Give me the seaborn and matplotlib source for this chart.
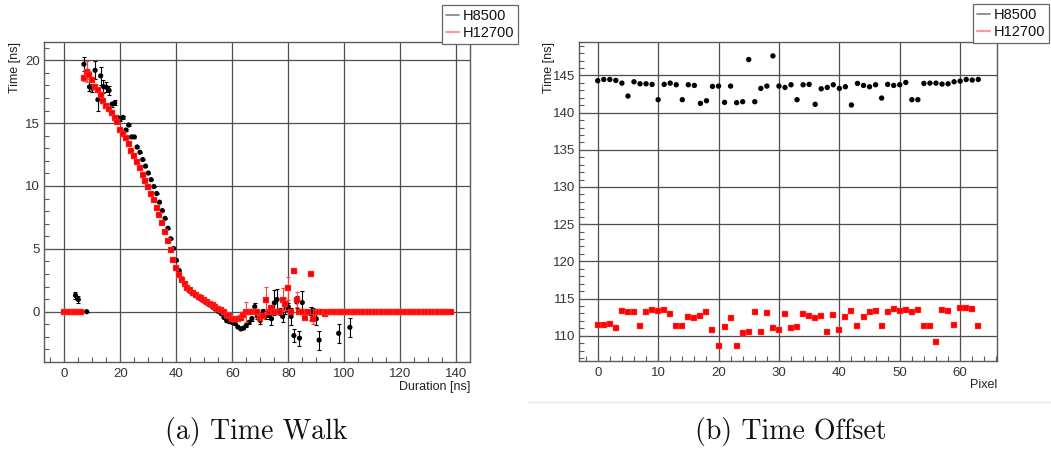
import numpy as np
import pandas as pd
import matplotlib
matplotlib.use("Agg")
import matplotlib.pyplot as plt
from matplotlib.ticker import MultipleLocator
from matplotlib.lines import Line2D
import seaborn as sns

# ---------------- data: (a) Time Walk ----------------
walk_black_x = [4, 5, 7, 8, 9, 10, 11, 12, 13, 14, 15, 16, 17, 18, 19, 20, 21, 22, 23, 24,
                25, 26, 27, 28, 29, 30, 31, 32, 33, 34, 35, 36, 37, 38, 39, 40, 41, 42, 43, 44,
                45, 46, 47, 48, 49, 50, 51, 52, 53, 54, 55, 56, 57, 58, 59, 60, 61, 62, 63, 64,
                65, 66, 67, 68, 69, 70, 71, 72, 73, 74, 75, 76, 77, 78, 79, 80, 81, 82, 83, 84,
                85, 88, 89, 90, 91, 98, 102]
walk_black_y = [1.3, 0.97, 19.68, 0.0, 17.88, 17.77, 19.2, 16.87, 18.76, 17.9, 17.85, 17.6, 16.5, 16.6, 15.45, 15.35, 15.45, 14.45, 14.85, 13.9,
                13.9, 13.1, 12.68, 12.1, 11.58, 11.03, 10.5, 9.95, 9.4, 8.71, 8.04, 7.42, 6.64, 5.8, 5.03, 4.09, 3.28, 2.63, 2.2, 1.8,
                1.6, 1.45, 1.28, 1.12, 0.97, 0.82, 0.67, 0.52, 0.36, 0.2, 0.03, -0.15, -0.45, -0.72, -0.8, -0.85, -0.95, -1.22, -1.37, -1.3,
                -1.1, -0.85, -0.55, 0.4, -0.35, -0.7, 0.0, -0.25, -0.3, -0.56, 0.7, 0.97, 0.0, -0.38, 0.18, 0.38, -0.38, -1.9, 0.78, -2.1,
                0.73, -0.16, 0.0, -0.56, -2.26, -1.72, -1.24]
walk_black_err = [0.3, 0.3, 0.55, 0.0, 0.35, 0.3, 0.7, 0.9, 0.7, 0.5, 0.4, 0.35, 0.2, 0.2, 0.15, 0.15, 0.15, 0.1, 0.1, 0.08,
                  0.08, 0.06, 0.06, 0.05, 0.05, 0.05, 0.05, 0.05, 0.05, 0.05, 0.05, 0.05, 0.05, 0.05, 0.05, 0.05, 0.05, 0.05, 0.05, 0.05,
                  0.05, 0.05, 0.05, 0.05, 0.05, 0.05, 0.05, 0.05, 0.05, 0.05, 0.05, 0.05, 0.05, 0.05, 0.05, 0.05, 0.05, 0.06, 0.08, 0.08,
                  0.1, 0.12, 0.15, 0.3, 0.25, 0.3, 0.2, 0.3, 0.3, 0.5, 1.0, 0.8, 0.3, 0.4, 0.4, 0.3, 0.7, 0.5, 0.5, 0.6,
                  0.9, 0.5, 0.3, 0.5, 0.75, 0.75, 0.75]

walk_red_x = list(range(0, 139))
walk_red_y = ([0.0] * 7 +
              [18.57, 19.1, 18.83, 18.46, 17.9, 17.64, 17.25, 16.77, 16.37, 16.1, 15.84, 15.44, 15.08,
               14.47, 14.13, 13.78, 13.33, 12.78, 12.35, 11.87, 11.4, 10.9, 10.4, 9.89, 9.37, 8.86,
               8.25, 7.7, 7.03, 6.32, 5.66, 4.92, 4.13, 3.46, 2.94, 2.54, 2.17, 1.87, 1.69, 1.51,
               1.35, 1.19, 1.06, 0.9, 0.77, 0.63, 0.5, 0.37, 0.23, 0.1, -0.05, -0.24, -0.37, -0.56,
               -0.6, -0.6, -0.5, -0.26,
               0.0, 0.0, 0.0, 0.0, 0.0, -0.48, -0.37, 0.97, 0.0, 0.27, 0.0, 0.0, 0.0, 0.97, 0.6,
               1.85, 0.0, 3.25, 0.97, 0.0, 0.0, -0.48, 0.0, 2.98, -0.55, 0.0, 0.0, 0.0, -0.22] +
              [0.0] * 45)
walk_red_err = ([0.0] * 7 +
                [0.2, 0.85, 0.3, 0.2, 0.15, 0.1, 0.1, 0.08, 0.06, 0.05, 0.05, 0.05, 0.05] +
                [0.04] * 45 +
                [0.8, 0.0, 0.0, 0.0, 0.0, 0.15, 0.1, 1.0, 0.0, 0.2, 0.0, 0.0, 0.0, 0.9, 0.5,
                 0.9, 0.0, 0.15, 0.6, 0.0, 0.0, 0.12, 0.0, 0.08, 0.4, 0.0, 0.0, 0.0, 0.1] +
                [0.0] * 45)

# ---------------- data: (b) Time Offset ----------------
pixels = list(range(64))
offset_h8500 = [144.29, 144.46, 144.46, 144.33, 143.97, 142.23, 144.15, 143.88, 143.88, 143.8,
                141.74, 143.8, 143.97, 143.75, 141.74, 143.75, 143.66, 141.25, 141.6, 143.53,
                143.57, 141.38, 143.57, 141.34, 141.47, 147.14, 141.47, 143.26, 143.57, 147.63,
                143.57, 143.39, 143.75, 141.74, 143.75, 143.8, 141.12, 143.21, 143.39, 143.75,
                143.26, 143.48, 141.03, 143.93, 143.66, 143.48, 143.75, 141.96, 143.8, 143.66,
                143.75, 144.06, 141.74, 141.74, 143.93, 143.97, 143.97, 143.84, 143.88, 144.15,
                144.24, 144.46, 144.38, 144.46]
offset_h12700 = [111.5, 111.5, 111.59, 111.09, 113.32, 113.14, 113.23, 111.27, 113.14, 113.41,
                 113.32, 113.41, 112.91, 111.32, 111.32, 112.5, 112.32, 112.64, 113.23, 110.73,
                 108.55, 111.18, 112.41, 108.68, 110.32, 110.55, 113.23, 110.5, 113.0, 111.09,
                 110.73, 112.91, 111.05, 111.18, 112.91, 112.64, 112.41, 112.64, 110.5, 112.73,
                 110.73, 112.55, 113.32, 111.32, 112.55, 113.14, 113.32, 111.32, 113.14, 113.64,
                 113.32, 113.41, 113.23, 113.41, 111.36, 111.36, 109.18, 113.41, 113.32, 111.45,
                 113.73, 113.73, 113.55, 111.32]

series_labels = ["H8500", "H12700"]
captions = ["(a) Time Walk", "(b) Time Offset"]

# ---------------- style ----------------
sns.set_theme(style="white")
plt.rcParams["font.family"] = ["Liberation Sans", "DejaVu Sans"]

W, H = 1051, 450
fig = plt.figure(figsize=(W / 100, H / 100), dpi=100)

def px_axes(l, t, r, b):
    return fig.add_axes([l / W, 1 - b / H, (r - l) / W, (b - t) / H])

ax1 = px_axes(44, 42, 470, 362)
ax2 = px_axes(579, 42, 997, 361)

GRID = "#4d4d4d"
SPINE = "#5a5a5a"
RED = "#ff0000"

def style_axes(ax, xmaj, xmin, ymaj, ymin):
    ax.set_facecolor("white")
    for s in ax.spines.values():
        s.set_visible(True)
        s.set_color(SPINE)
        s.set_linewidth(1.0)
    ax.xaxis.set_major_locator(MultipleLocator(xmaj))
    ax.xaxis.set_minor_locator(MultipleLocator(xmin))
    ax.yaxis.set_major_locator(MultipleLocator(ymaj))
    ax.yaxis.set_minor_locator(MultipleLocator(ymin))
    ax.tick_params(axis="both", which="both", direction="in", colors="#333333",
                   top=False, right=False, left=True, bottom=True, labelsize=9.5)
    ax.tick_params(axis="both", which="major", length=6.5, width=0.8, color=SPINE)
    ax.tick_params(axis="both", which="minor", length=3.6, width=0.8, color=SPINE)
    ax.tick_params(axis="y", which="major", pad=3)
    ax.tick_params(axis="x", which="major", pad=4.0)
    ax.grid(True, which="major", color=GRID, linewidth=0.9, zorder=0)
    ax.set_axisbelow(True)

# ---------------- (a) Time Walk ----------------
style_axes(ax1, 20, 5, 5, 1)
ax1.set_xlim(-7.25, 144.9)
ax1.set_ylim(-4.0, 21.45)

ax1.errorbar(walk_black_x, walk_black_y, yerr=walk_black_err, fmt="none",
             ecolor="black", elinewidth=0.8, capsize=1.4, capthick=0.8, zorder=2)
df_b = pd.DataFrame({"x": walk_black_x, "y": walk_black_y})
sns.scatterplot(data=df_b, x="x", y="y", ax=ax1, color="black", marker="o",
                s=14, edgecolor="none", linewidth=0, zorder=3)
ax1.errorbar(walk_red_x, walk_red_y, yerr=walk_red_err, fmt="none",
             ecolor="#ff4040", elinewidth=0.8, capsize=1.4, capthick=0.8, zorder=4)
df_r = pd.DataFrame({"x": walk_red_x, "y": walk_red_y})
sns.scatterplot(data=df_r, x="x", y="y", ax=ax1, color=RED, marker="s",
                s=19, edgecolor="#ff6666", linewidth=0.3, zorder=5)

ax1.set_xlabel("Duration [ns]", fontsize=9, loc="right", color="#222222")
ax1.xaxis.set_label_coords(1.0, -0.058)
ax1.set_ylabel("Time [ns]", fontsize=9, loc="top", color="#222222")
ax1.yaxis.set_label_coords(-0.054, 1.0)

# ---------------- (b) Time Offset ----------------
style_axes(ax2, 10, 2, 5, 1)
ax2.set_xlim(-3.1, 66.1)
ax2.set_ylim(106.6, 149.5)

df_o = pd.DataFrame({"pixel": pixels * 2,
                     "time": offset_h8500 + offset_h12700,
                     "pmt": [series_labels[0]] * 64 + [series_labels[1]] * 64})
sns.scatterplot(data=df_o[df_o.pmt == series_labels[0]], x="pixel", y="time", ax=ax2,
                color="black", marker="o", s=15, edgecolor="none", linewidth=0, zorder=3)
sns.scatterplot(data=df_o[df_o.pmt == series_labels[1]], x="pixel", y="time", ax=ax2,
                color=RED, marker="s", s=19, edgecolor="#ff6666", linewidth=0.3, zorder=3)

ax2.set_xlabel("Pixel", fontsize=9, loc="right", color="#222222")
ax2.xaxis.set_label_coords(1.0, -0.056)
ax2.set_ylabel("Time [ns]", fontsize=9, loc="top", color="#222222")
ax2.yaxis.set_label_coords(-0.058, 1.0)

# ---------------- legends ----------------
handles = [Line2D([], [], color="#808080", lw=1.2), Line2D([], [], color="#ff9a9a", lw=1.6)]
for anchor in [(518 / W, 1 - 5 / H), (1049 / W, 1 - 4 / H)]:
    leg = fig.legend(handles, series_labels, loc="upper right", bbox_to_anchor=anchor,
                     fontsize=10.5, frameon=True, fancybox=False, framealpha=1,
                     handlelength=0.9, handletextpad=0.25, borderpad=0.25,
                     labelspacing=0.25, borderaxespad=0)
    leg.get_frame().set_edgecolor("#666666")
    leg.get_frame().set_linewidth(0.9)
    for t in leg.get_texts():
        t.set_color("#111111")

# ---------------- captions and rule ----------------
fig.add_artist(Line2D([528 / W, 1.0], [1 - 401.5 / H, 1 - 401.5 / H],
                      color="#e8e8e8", lw=1.0, transform=fig.transFigure))
fig.text(256 / W, 1 - 432 / H, captions[0], ha="center", va="center",
         fontfamily="cmr10", fontsize=20, color="#111111")
fig.text(791 / W, 1 - 432 / H, captions[1], ha="center", va="center",
         fontfamily="cmr10", fontsize=20, color="#111111")

fig.savefig("out.png", dpi=100, facecolor="white")
